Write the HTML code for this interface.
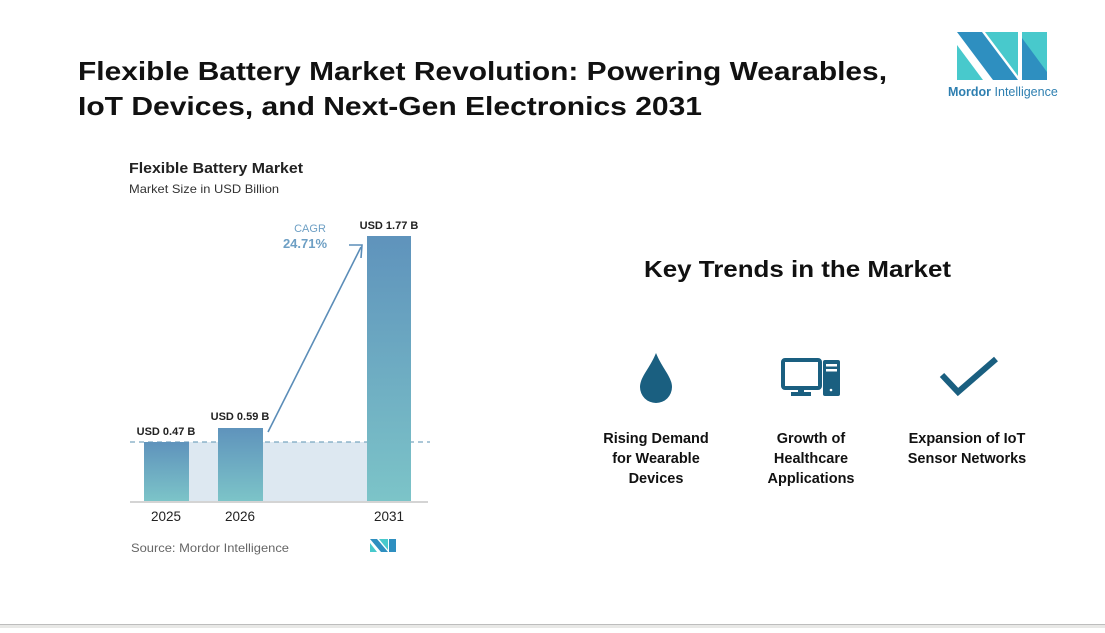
<!DOCTYPE html>
<html><head><meta charset="utf-8"><style>
html,body{margin:0;padding:0;background:#fff;}
body{width:1105px;height:628px;overflow:hidden;position:relative;font-family:"Liberation Sans",sans-serif;}
svg text{font-family:"Liberation Sans",sans-serif;}
</style></head><body>
<svg width="1105" height="628" viewBox="0 0 1105 628" xmlns="http://www.w3.org/2000/svg">
<defs>
<linearGradient id="g" x1="0" y1="0" x2="0" y2="1">
<stop offset="0" stop-color="#5f93bc"/><stop offset="1" stop-color="#7cc4c8"/>
</linearGradient>
</defs>
<text x="78" y="80" font-size="26" font-weight="bold" fill="#111" textLength="809" lengthAdjust="spacingAndGlyphs">Flexible Battery Market Revolution: Powering Wearables,</text>
<text x="78" y="115" font-size="26" font-weight="bold" fill="#111" textLength="624" lengthAdjust="spacingAndGlyphs">IoT Devices, and Next-Gen Electronics 2031</text>
<!-- logo -->
<polygon points="957,32 982,32 1018,80 993,80" fill="#2e8fc0"/>
<polygon points="957,45 957,80 983,80" fill="#48c9cc"/>
<polygon points="985,32 1018,32 1018,76" fill="#48c9cc"/>
<polygon points="1022,32 1047,32 1047,80 1022,80" fill="#48c9cc"/>
<polygon points="1022,38 1047,72 1047,80 1022,80" fill="#2e8fc0"/>
<text x="948" y="96" font-size="12.5" fill="#2e7fb0"><tspan font-weight="bold">Mordor</tspan> Intelligence</text>
<!-- chart -->
<text x="129" y="173" font-size="15" font-weight="bold" fill="#222" textLength="174" lengthAdjust="spacingAndGlyphs">Flexible Battery Market</text>
<text x="129" y="193" font-size="12" fill="#333" textLength="150" lengthAdjust="spacingAndGlyphs">Market Size in USD Billion</text>
<rect x="189" y="442" width="178" height="59" fill="#dde8f1"/>
<line x1="130" y1="442" x2="430" y2="442" stroke="#7aa6c0" stroke-width="1.2" stroke-dasharray="5,4"/>
<rect x="144" y="442" width="45" height="59" fill="url(#g)"/>
<rect x="218" y="428" width="45" height="73" fill="url(#g)"/>
<rect x="367" y="236" width="44" height="265" fill="url(#g)"/>
<line x1="130" y1="502" x2="428" y2="502" stroke="#aaa" stroke-width="1"/>
<text x="166" y="435" font-size="11" font-weight="bold" fill="#222" text-anchor="middle">USD 0.47 B</text>
<text x="240" y="420" font-size="11" font-weight="bold" fill="#222" text-anchor="middle">USD 0.59 B</text>
<text x="389" y="229" font-size="11" font-weight="bold" fill="#222" text-anchor="middle">USD 1.77 B</text>
<text x="310" y="232" font-size="11" fill="#6d9fc4" text-anchor="middle">CAGR</text>
<text x="305" y="248" font-size="13" font-weight="bold" fill="#6d9fc4" text-anchor="middle">24.71%</text>
<line x1="268" y1="432" x2="361" y2="247" stroke="#5b8db8" stroke-width="1.6"/>
<polyline points="349,245 362,245 361,258" fill="none" stroke="#5b8db8" stroke-width="1.6"/>
<text x="166" y="521" font-size="13.5" fill="#222" text-anchor="middle">2025</text>
<text x="240" y="521" font-size="13.5" fill="#222" text-anchor="middle">2026</text>
<text x="389" y="521" font-size="13.5" fill="#222" text-anchor="middle">2031</text>
<text x="131" y="552" font-size="12" fill="#666" textLength="158" lengthAdjust="spacingAndGlyphs">Source: Mordor Intelligence</text>
<polygon points="370,539 377,539 388,552 381,552" fill="#2e8fc0"/>
<polygon points="370,543 370,552 377,552" fill="#48c9cc"/>
<polygon points="379,539 388,539 388,550" fill="#48c9cc"/>
<rect x="389" y="539" width="7" height="13" fill="#2e8fc0"/>
<!-- right -->
<text x="644" y="277" font-size="23" font-weight="bold" fill="#111" textLength="307" lengthAdjust="spacingAndGlyphs">Key Trends in the Market</text>
<path d="M656,353 C650,368 640,377 640,387 A15,15 0 0 0 672,387 C672,377 662,368 656,353 Z" fill="#1a5f80"/>
<g fill="#1a5f80">
<rect x="783" y="360" width="37" height="28" rx="2" fill="none" stroke="#1a5f80" stroke-width="4"/>
<rect x="798" y="388" width="6" height="5"/>
<rect x="791" y="392" width="20" height="4"/>
<rect x="823" y="360" width="17" height="36" rx="2"/>
<rect x="826" y="364" width="11" height="2.5" fill="#fff"/>
<rect x="826" y="369" width="11" height="2.5" fill="#fff"/>
<circle cx="831" cy="390" r="1.3" fill="#fff"/>
</g>
<polyline points="942,375 958,392 996,359" fill="none" stroke="#1a5f80" stroke-width="6"/>
<g font-size="14.5" font-weight="bold" fill="#111" text-anchor="middle">
<text x="656" y="443">Rising Demand</text>
<text x="656" y="463">for Wearable</text>
<text x="656" y="483">Devices</text>
<text x="811" y="443">Growth of</text>
<text x="811" y="463">Healthcare</text>
<text x="811" y="483">Applications</text>
<text x="967" y="443">Expansion of IoT</text>
<text x="967" y="463">Sensor Networks</text>
</g>
<rect x="0" y="624" width="1105" height="1" fill="#bdbdbd"/>
<rect x="0" y="625" width="1105" height="3" fill="#e8e8e6"/>
</svg>
</body></html>
